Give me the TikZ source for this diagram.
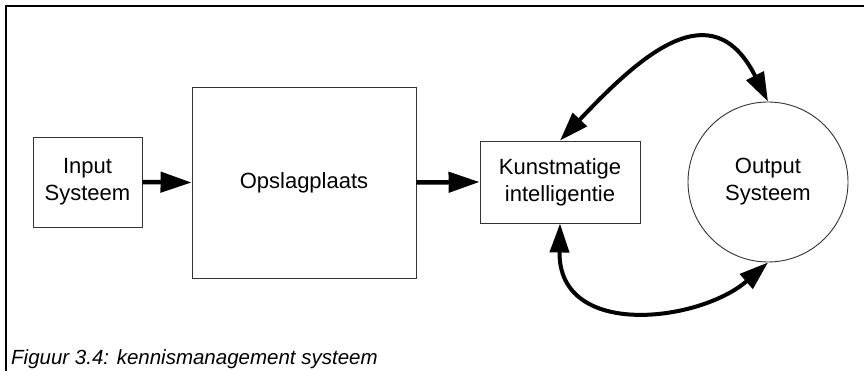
\documentclass[tikz,border=0pt]{standalone}
\usepackage{fontspec}
\setmainfont{Liberation Sans}
\usetikzlibrary{arrows.meta}

\begin{document}
\begin{tikzpicture}[
  x=1pt, y=-1pt,
  block/.style={draw=black!80, line width=0.9pt, fill=white, inner sep=0pt,
                align=center, font=\fontsize{22}{27}\selectfont},
  flow/.style={line width=4.5pt, -{Triangle[length=31pt,width=20pt]}},
  loop/.style={line width=4pt,
               {Triangle[length=29pt,width=19pt]}-{Triangle[length=29pt,width=19pt]}},
]
  % canvas
  \useasboundingbox (0,0) rectangle (864,371);

  % open frame: top and left edge only
  \draw[line width=1.5pt] (6,371) -- (6,6) -- (864,6);

  % blocks
  \node[block, minimum width=109pt, minimum height=90pt]  (input) at (87.5,182) {Input\\Systeem};
  \node[block, minimum width=224pt, minimum height=191pt] (store) at (304,182.5) {Opslagplaats};
  \node[block, minimum width=160pt, minimum height=82pt]  (ai)    at (560,182) {Kunstmatige\\intelligentie};
  \node[block, circle, minimum size=160pt]                (out)   at (768,182) {Output\\Systeem};

  % straight flow
  \draw[flow] (input.east) -- (store.west);
  \draw[flow] (store.east) -- (ai.west);

  % two-way exchange with the output system
  \draw[loop] (ai.north) .. controls (640,56) and (712,-10) .. (out.north);
  \draw[loop] (ai.south) .. controls (558,340) and (700,322) .. (out.south);

  % caption
  \node[anchor=base west, inner sep=0pt, font=\fontsize{20.5}{24}\selectfont\itshape]
    (caption) at (11,364) {Figuur 3.4: kennismanagement systeem};
\end{tikzpicture}
\end{document}
